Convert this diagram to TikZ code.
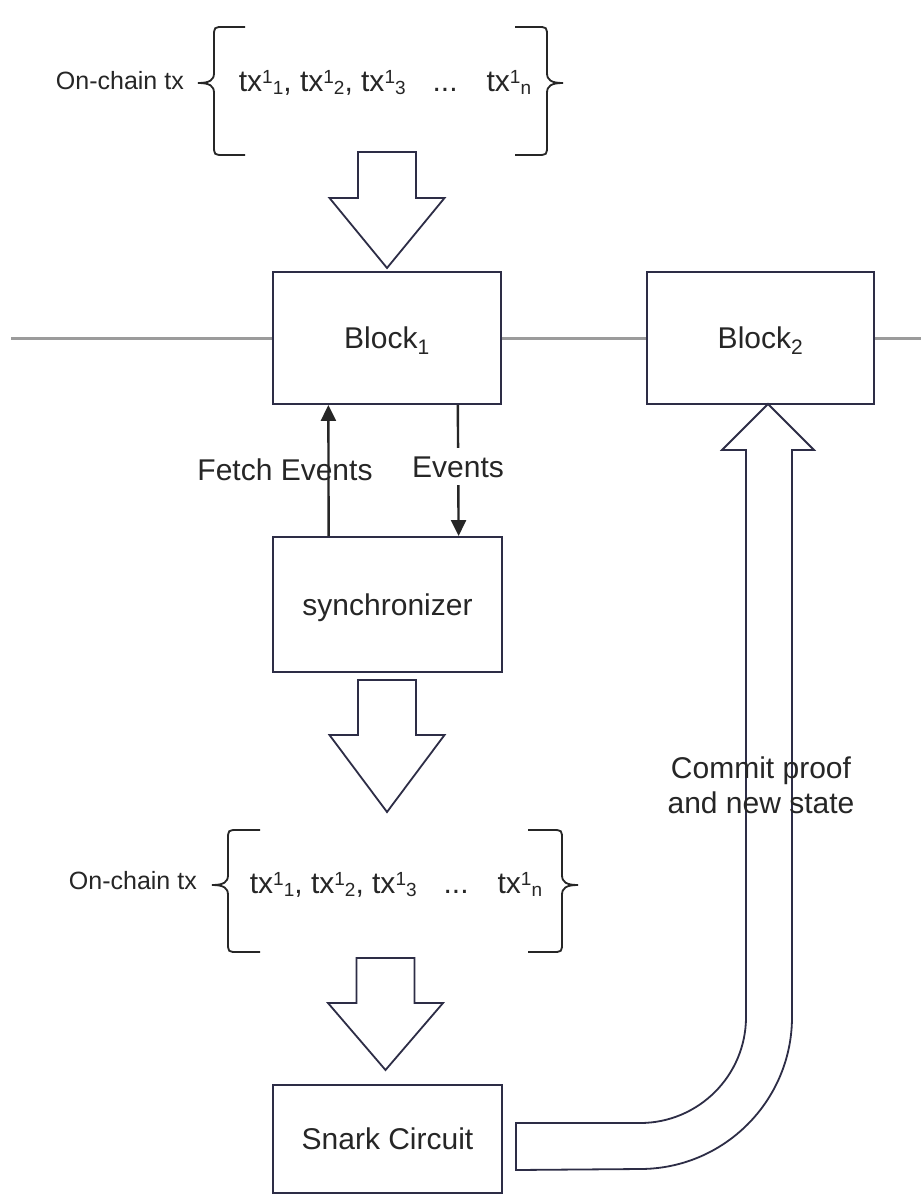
\documentclass[tikz,border=0pt]{standalone}
\usepackage{fontspec}
\setmainfont{Liberation Sans}
\usetikzlibrary{arrows.meta,calc}
\definecolor{edge}{RGB}{45,45,70}
\definecolor{ink}{RGB}{38,38,38}
\definecolor{chain}{RGB}{155,155,155}
\newcommand\txi[1]{tx{\fontsize{19}{19}\selectfont\raisebox{8pt}{1}\raisebox{-3pt}{#1}}}
\newcommand\txrow{\txi{1}, \txi{2}, \txi{3}\hspace{27pt}...\hspace{29pt}\txi{n}}
% left brace: xv xh xtip ytop ytip ybot
\newcommand\leftbr[6]{\draw[brace] (#2,#4) -- (#1+10,#4) .. controls (#1,#4) .. (#1,#4+10) -- (#1,#5-10) .. controls (#1,#5-3) and (#1-4,#5) .. (#3,#5) .. controls (#1-4,#5) and (#1,#5+3) .. (#1,#5+10) -- (#1,#6-10) .. controls (#1,#6) .. (#1+10,#6) -- (#2,#6);}
\newcommand\rightbr[6]{\draw[brace] (#2,#4) -- (#1-10,#4) .. controls (#1,#4) .. (#1,#4+10) -- (#1,#5-10) .. controls (#1,#5-3) and (#1+4,#5) .. (#3,#5) .. controls (#1+4,#5) and (#1,#5+3) .. (#1,#5+10) -- (#1,#6-10) .. controls (#1,#6) .. (#1-10,#6) -- (#2,#6);}
% hollow block arrow: x ytop yhead ytip
\newcommand\blockarrow[4]{\draw[hollow] (#1-29,#2) -- (#1+29,#2) -- (#1+29,#3) -- (#1+57.5,#3) -- (#1,#4) -- (#1-57.5,#3) -- (#1-29,#3) -- cycle;}
\begin{document}
\begin{tikzpicture}[x=1pt,y=-1pt,
  box/.style={draw=edge, line width=1.9pt, fill=white, inner sep=0pt, font=\fontsize{30}{36}\selectfont, text=ink, text height=21pt, text depth=0pt},
  lbl/.style={font=\fontsize{30}{36}\selectfont, text=ink, inner sep=0pt, anchor=base},
  small/.style={font=\fontsize{25}{30}\selectfont, text=ink, inner sep=0pt, anchor=base east},
  hollow/.style={draw=edge, line width=1.8pt, fill=white, line join=miter},
  brace/.style={draw=ink, line width=1.8pt},
  chainline/.style={draw=chain, line width=3pt},
  thinarrow/.style={draw=ink, line width=2.4pt, -{Triangle[length=16pt,width=15pt]}}]
\useasboundingbox (0,0) rectangle (920,1198);
\fill[white] (0,0) rectangle (920,1198);

% boxes
\node[box, minimum width=228pt, minimum height=132pt] (b1) at (387,338) {Block\textsubscript{1}};
\node[box, minimum width=227pt, minimum height=132pt] (b2) at (760.5,338) {Block\textsubscript{2}};
\node[box, minimum width=229pt, minimum height=135pt] (sync) at (387.5,604.5) {synchronizer};
\node[box, minimum width=229pt, minimum height=108pt] (snark) at (387.5,1139) {Snark Circuit};

% chain line
\coordinate (cl) at (11,338);
\coordinate (cr) at (921,338);
\draw[chainline] (cl) -- (b1.west) (b1.east) -- (b2.west) (b2.east) -- (cr);

% top transactions
\node[small] (oc1) at (184,90) {On-chain tx};
\node[lbl] (tx1) at (385,92) {\txrow};
\leftbr{214}{245}{198}{27}{83}{155}
\rightbr{547}{515}{563}{27}{83}{155}

\blockarrow{387}{152}{198}{268}

% events
\draw[thinarrow] ($(sync.north west)!0.245!(sync.north east)$) -- ($(b1.south west)!0.245!(b1.south east)$);
\draw[thinarrow] ($(b1.south west)!0.808!(b1.south east)$) -- ($(sync.north west)!0.808!(sync.north east)$);
\node[lbl] (fe) at (285,480) {Fetch Events};
\node[lbl, fill=white, inner xsep=0pt, inner ysep=8pt] (ev) at (458,477) {Events};

\blockarrow{387}{680}{735}{812}

% lower transactions
\node[small] (oc2) at (197,889) {On-chain tx};
\node[lbl] (tx2) at (396,893) {\txrow};
\leftbr{228}{260}{212}{830}{885}{952}
\rightbr{562}{528}{578}{830}{885}{952}

\blockarrow{385.5}{958}{1003}{1070}

% bent arrow to Block2
\draw[hollow] (516,1123) -- (640,1123) arc[start angle=-90,end angle=0,radius=106pt] -- (746,450) -- (722,450) -- (768,404) -- (814,450) -- (792,450) -- (792,1017) arc[start angle=0,end angle=-90,radius=152pt] -- (516,1170) -- cycle;
\node[font=\fontsize{30}{35}\selectfont, text=ink, align=center, inner sep=0pt] (commit) at (761,785) {Commit proof\\and new state};
\end{tikzpicture}
\end{document}
